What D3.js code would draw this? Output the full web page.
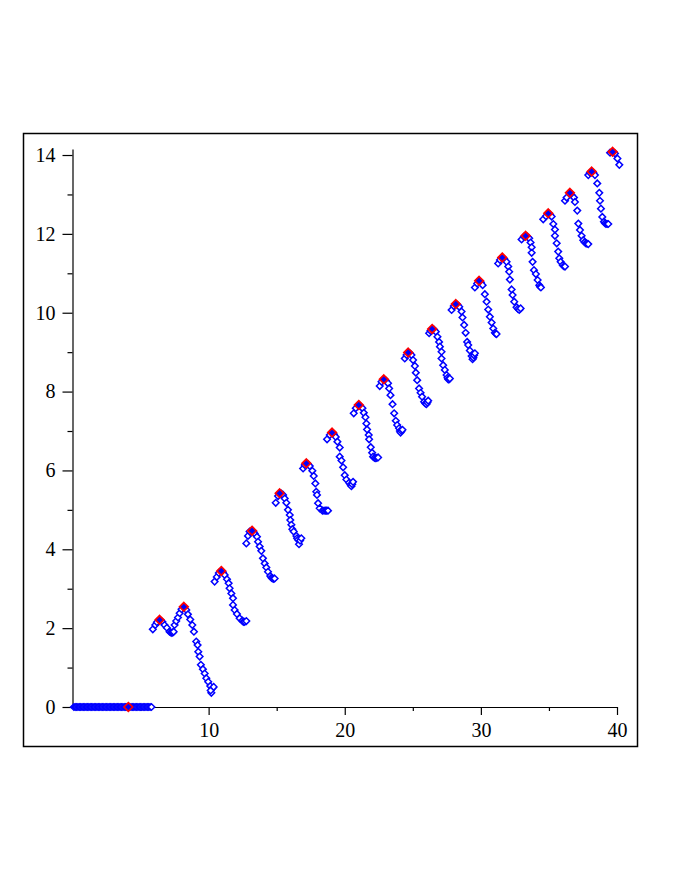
<!DOCTYPE html>
<html>
<head>
<meta charset="utf-8">
<script src="https://cdn.jsdelivr.net/npm/d3@7"></script>
<style>
  body { margin: 0; background: #fff; }
  .axis text { font-family: "Liberation Serif", serif; font-size: 20px; fill: #000; }
  .axis path, .axis line { stroke: #000; stroke-width: 1.2; }
</style>
</head>
<body>
<div id="chart"></div>
<script>
// flat run along y = 0
var flatX = [0.1,0.2,0.3,0.4,0.5,0.6,0.7,0.8,0.9,1.0,1.1,1.2,1.3,1.4,1.5,1.6,1.7,1.8,1.9,2.0,
  2.1,2.2,2.3,2.4,2.5,2.6,2.7,2.8,2.9,3.0,3.1,3.2,3.3,3.4,3.5,3.6,3.7,3.8,3.9,4.0,
  4.1,4.2,4.3,4.4,4.5,4.6,4.7,4.8,4.9,5.0,5.1,5.2,5.3,5.4,5.5,5.6,5.7,5.8];

// blue points of the rising part, [x, y]
var bluePoints = [
  [5.9,1.97],[6.08,2.08],[6.2,2.15],[6.4,2.21],[6.6,2.16],[6.76,2.08],[6.93,2.01],[7.13,1.91],[7.22,1.89],[7.3,1.88],[7.38,1.89],[7.43,1.91],
  [7.5,2.08],[7.62,2.18],[7.75,2.27],[7.87,2.38],[8.01,2.48],[8.18,2.54],[8.36,2.46],[8.48,2.35],[8.65,2.22],[8.8,2.08],[8.92,1.91],
  [9.09,1.66],[9.19,1.57],[9.24,1.40],[9.34,1.28],[9.43,1.07],[9.58,0.96],[9.71,0.85],[9.83,0.73],[9.97,0.64],[10.12,0.53],[10.27,0.47],[10.2,0.36],[10.15,0.42],[10.37,0.51],

  [10.44,3.18],[10.6,3.3],[10.75,3.4],[10.93,3.45],[11.05,3.42],[11.18,3.35],[11.35,3.24],[11.47,3.14],[11.54,3.01],[11.67,2.88],[11.79,2.76],[11.79,2.59],
  [11.91,2.46],[12.08,2.36],[12.28,2.25],[12.47,2.19],[12.55,2.16],[12.65,2.16],[12.77,2.18],

  [12.77,4.15],[12.89,4.34],[13.01,4.45],[13.19,4.47],[13.3,4.44],[13.38,4.40],[13.55,4.32],[13.63,4.19],[13.75,4.07],[13.87,3.96],[13.99,3.77],[14.12,3.64],
  [14.24,3.54],[14.36,3.43],[14.53,3.32],[14.62,3.28],[14.68,3.26],[14.78,3.25],[14.85,3.26],

  [14.93,5.18],[15.1,5.35],[15.22,5.42],[15.35,5.41],[15.47,5.38],[15.59,5.29],[15.71,5.18],[15.83,5.0],[15.96,4.87],[16.0,4.74],[16.08,4.62],[16.15,4.51],
  [16.25,4.45],[16.45,4.34],[16.5,4.28],[16.57,4.24],[16.64,4.13],[16.72,4.22],[16.81,4.28],

  [16.94,6.05],[17.06,6.14],[17.18,6.18],[17.3,6.16],[17.43,6.11],[17.62,5.99],[17.72,5.86],[17.84,5.67],[17.91,5.46],[17.96,5.38],[18.04,5.17],[18.16,5.04],
  [18.36,4.98],[18.48,4.98],[18.6,4.98],[18.68,4.98],[18.77,4.98],

  [18.7,6.79],[18.9,6.9],[19.07,6.96],[19.2,6.92],[19.34,6.85],[19.46,6.73],[19.63,6.58],[19.63,6.35],[19.76,6.25],[19.88,6.08],[20.0,5.88],[20.12,5.77],
  [20.32,5.69],[20.42,5.64],[20.49,5.6],[20.55,5.65],[20.61,5.71],

  [20.66,7.45],[20.81,7.58],[21.03,7.66],[21.15,7.63],[21.3,7.58],[21.4,7.46],[21.52,7.35],[21.59,7.19],[21.64,7.04],[21.76,6.9],[21.79,6.79],[21.91,6.59],
  [22.01,6.45],[22.08,6.35],[22.18,6.32],[22.28,6.31],[22.36,6.32],[22.45,6.33],

  [22.57,8.14],[22.7,8.25],[22.87,8.31],[23.02,8.28],[23.18,8.21],[23.26,8.08],[23.36,7.91],[23.51,7.68],[23.63,7.45],[23.75,7.26],[23.85,7.15],[23.99,7.07],
  [24.05,7.0],[24.1,6.96],[24.17,7.0],[24.24,7.03],

  [24.41,8.84],[24.54,8.93],[24.66,8.99],[24.78,8.97],[24.9,8.93],[25.02,8.8],[25.15,8.65],[25.22,8.48],[25.32,8.29],[25.46,8.08],[25.57,7.97],[25.68,7.87],
  [25.83,7.74],[25.92,7.7],[26.0,7.68],[26.07,7.72],[26.13,7.77],

  [26.2,9.48],[26.3,9.54],[26.42,9.59],[26.55,9.57],[26.69,9.52],[26.81,9.39],[26.93,9.26],[26.99,9.14],[27.11,9.01],[27.11,8.84],[27.23,8.67],[27.35,8.55],
  [27.48,8.42],[27.55,8.35],[27.6,8.31],[27.66,8.31],[27.72,8.33],

  [27.85,10.07],[28.01,10.17],[28.16,10.22],[28.28,10.2],[28.41,10.15],[28.58,10.03],[28.65,9.88],[28.77,9.69],[28.88,9.49],[28.99,9.26],[29.07,9.18],[29.19,9.04],
  [29.32,8.9],[29.39,8.82],[29.45,8.86],[29.5,8.92],[29.56,8.97],

  [29.56,10.64],[29.73,10.74],[29.87,10.81],[30.0,10.77],[30.13,10.7],[30.29,10.47],[30.42,10.28],[30.54,10.08],[30.66,9.9],[30.79,9.75],[30.91,9.6],[31.03,9.49],
  [31.1,9.47],[31.15,9.46],

  [31.27,11.25],[31.4,11.34],[31.57,11.4],[31.72,11.36],[31.89,11.29],[32.01,11.17],[32.08,11.04],[32.13,10.84],[32.26,10.59],[32.33,10.45],[32.45,10.28],[32.62,10.14],
  [32.72,10.1],[32.82,10.07],[32.92,10.11],

  [32.99,11.86],[33.16,11.93],[33.29,11.95],[33.42,11.93],[33.55,11.89],[33.65,11.78],[33.73,11.66],[33.73,11.52],[33.8,11.29],[33.9,11.08],[34.04,10.98],[34.17,10.83],
  [34.29,10.7],[34.35,10.66],[34.41,10.64],

  [34.58,12.37],[34.78,12.45],[34.95,12.52],[35.08,12.49],[35.2,12.44],[35.32,12.25],[35.44,12.11],[35.44,11.95],[35.57,11.76],[35.68,11.55],[35.76,11.38],[35.86,11.29],
  [36.01,11.21],[36.1,11.18],[36.18,11.17],

  [36.18,12.84],[36.3,12.92],[36.54,13.04],[36.68,12.98],[36.84,12.92],[36.91,12.81],[37.08,12.59],[37.16,12.26],[37.28,12.1],[37.4,11.95],[37.52,11.84],[37.62,11.79],
  [37.72,11.76],[37.8,11.75],[37.89,11.74],

  [37.89,13.49],[38.01,13.55],[38.14,13.58],[38.26,13.55],[38.38,13.49],[38.55,13.28],[38.7,13.04],[38.75,12.84],[38.82,12.64],[38.92,12.43],[39.04,12.31],[39.12,12.27],
  [39.19,12.25],[39.28,12.25],[39.36,12.25],

  [39.49,14.06],[39.68,14.08],[39.85,14.04],[40.03,13.91],[40.17,13.75]
];

// red markers at the local maxima
var peakX = [4.1,6.4,8.18,10.93,13.19,15.22,17.18,19.07,21.03,22.87,24.66,26.42,28.16,29.87,31.57,33.29,34.95,36.54,38.14,39.68];
var peakY = [0,2.21,2.54,3.45,4.47,5.42,6.18,6.96,7.66,8.31,8.99,9.59,10.22,10.81,11.4,11.95,12.52,13.04,13.58,14.08];

var yMajor = [0,2,4,6,8,10,12,14];
var yMinor = [1,3,5,7,9,11,13];
var xMajor = [10,20,30,40];
var xMinor = [5,15,25,35];

var width = 680, height = 880;

var svg = d3.select("#chart").append("svg")
  .attr("width", width)
  .attr("height", height);

// outer frame
svg.append("rect")
  .attr("x", 23.5).attr("y", 133.5)
  .attr("width", 614).attr("height", 613)
  .attr("fill", "none")
  .attr("stroke", "#000")
  .attr("stroke-width", 1.5);

var x = d3.scaleLinear().domain([0, 40]).range([72.5, 617]);
var y = d3.scaleLinear().domain([0, 14.15]).range([707, 149.1]);

// minor ticks first, without domain line
svg.append("g")
  .attr("class", "axis")
  .attr("transform", "translate(0," + y(0) + ")")
  .call(d3.axisBottom(x).tickValues(xMinor).tickSize(4).tickFormat(""))
  .select(".domain").remove();

svg.append("g")
  .attr("class", "axis")
  .attr("transform", "translate(" + x(0) + ",0)")
  .call(d3.axisLeft(y).tickValues(yMinor).tickSize(5).tickFormat(""))
  .select(".domain").remove();

var xAxis = svg.append("g")
  .attr("class", "axis")
  .attr("transform", "translate(0," + y(0) + ")")
  .call(d3.axisBottom(x).tickValues(xMajor).tickSize(8).tickSizeOuter(0).tickPadding(8));

var yAxis = svg.append("g")
  .attr("class", "axis")
  .attr("transform", "translate(" + x(0) + ",0)")
  .call(d3.axisLeft(y).tickValues(yMajor).tickSize(10).tickSizeOuter(0).tickPadding(7));

var diamond = function(r) {
  return "M0," + (-r) + "L" + r + ",0L0," + r + "L" + (-r) + ",0Z";
};

var plot = svg.append("g");

// flat run
plot.selectAll(".flat")
  .data(flatX)
  .enter().append("path")
  .attr("class", "flat")
  .attr("transform", function(d) { return "translate(" + x(d) + "," + y(0) + ")"; })
  .attr("d", diamond(3.3))
  .attr("fill", "#fff")
  .attr("stroke", "#0000ff")
  .attr("stroke-width", 1.5);

plot.selectAll(".pt")
  .data(bluePoints)
  .enter().append("path")
  .attr("class", "pt")
  .attr("transform", function(d) { return "translate(" + x(d[0]) + "," + y(d[1]) + ")"; })
  .attr("d", diamond(3.3))
  .attr("fill", "#fff")
  .attr("stroke", "#0000ff")
  .attr("stroke-width", 1.5);

plot.selectAll(".peak")
  .data(peakX)
  .enter().append("path")
  .attr("class", "peak")
  .attr("transform", function(d, i) { return "translate(" + x(d) + "," + y(peakY[i]) + ")"; })
  .attr("d", diamond(4.3))
  .attr("fill", "#0000ff")
  .attr("stroke", "#ff0000")
  .attr("stroke-width", 1.7);
</script>
</body>
</html>
